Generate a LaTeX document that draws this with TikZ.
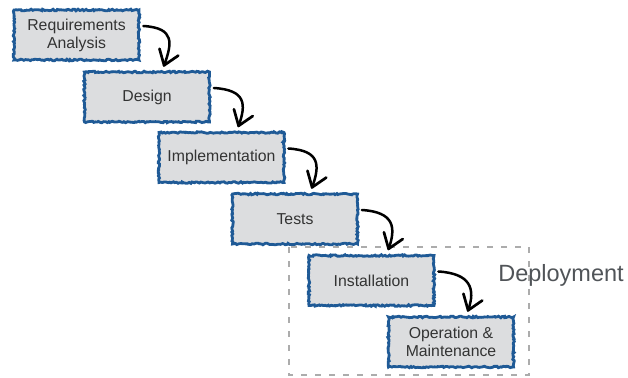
\documentclass[tikz,border=0pt]{standalone}
\usepackage{fontspec}
\setmainfont{Liberation Sans}
\usetikzlibrary{decorations.pathmorphing,decorations.markings}
\definecolor{boxblue}{HTML}{1F5A96}
\definecolor{boxfill}{HTML}{DCDDDF}
\definecolor{txtgray}{HTML}{333333}
\definecolor{deptext}{HTML}{505458}
\tikzset{
  phase/.style={draw=boxblue, fill=boxfill, line width=2.8pt,
    minimum width=125pt, minimum height=50pt, inner sep=0pt,
    decorate, decoration={random steps, segment length=1.6pt, amplitude=0.8pt},
    text=txtgray, font=\fontsize{15.8}{18}\selectfont, align=center},
  flow/.style={line width=2.5pt, black, line cap=round,
    postaction={decorate, decoration={markings, mark=at position 0.995 with {
      \draw[line width=2.7pt, line cap=round, line join=round]
        (-14pt,10pt) -- (0pt,0pt) -- (-14pt,-10pt);}}}},
  deploybox/.style={draw=gray!65, line width=2.2pt, dash pattern=on 6pt off 8pt}
}
\begin{document}
\begin{tikzpicture}[x=1pt,y=-1pt]
\pgfmathsetseed{7}
\useasboundingbox (0,0) rectangle (628,377);
\draw[deploybox] (289,247) rectangle (529,375);
\node[phase] (b1) at (76.5,35) {Requirements\\Analysis};
\node[phase] (b2) at (147,97) {Design};
\node[phase] (b3) at (221.5,157.5) {Implementation};
\node[phase] (b4) at (295,219) {Tests};
\node[phase] (b5) at (371.5,280.5) {Installation};
\node[phase] (b6) at (451,342) {Operation \&\\Maintenance};
\node[text=deptext, font=\fontsize{23.5}{26}\selectfont] (dep) at (561,275) {Deployment};
\foreach \a/\b in {b1/b2,b2/b3,b3/b4,b4/b5,b5/b6}{
  \draw[flow] ([xshift=3pt,yshift=9pt]\a.east) .. controls +(32,2) and +(8,-22) .. ([xshift=17pt,yshift=5pt]\b.north);
}
\end{tikzpicture}
\end{document}
